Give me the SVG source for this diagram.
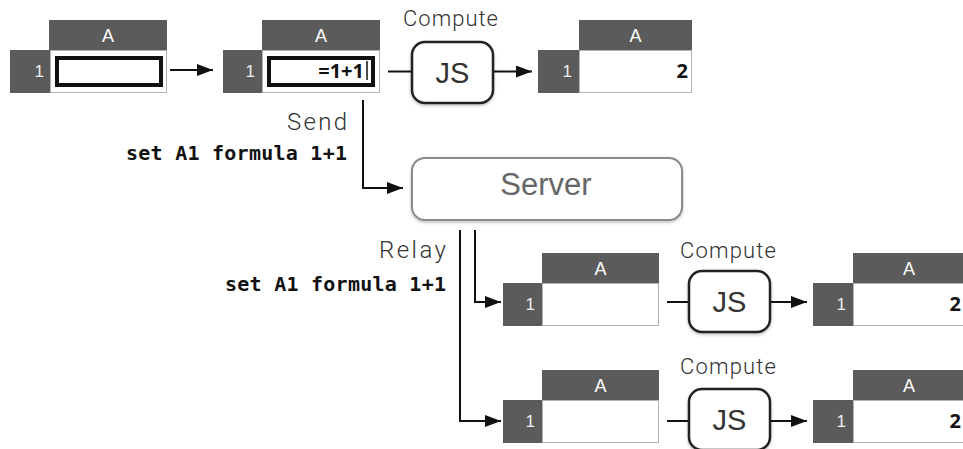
<svg xmlns="http://www.w3.org/2000/svg" width="963" height="449" viewBox="0 0 963 449">
<style>
.hdr{fill:#5b5b5b}
.cell{fill:#fff;stroke:#b3b3b3;stroke-width:1}
.hl{fill:#fff;font-family:"Liberation Sans",Arial,sans-serif;font-size:18px;text-anchor:middle}
.rl{fill:#eee;font-family:"Liberation Sans",Arial,sans-serif;font-size:17px;text-anchor:end}
.val{fill:#111;font-family:"Open Sans","Noto Sans",sans-serif;font-weight:bold;font-size:20px;text-anchor:end}
.edit{fill:none;stroke:#111;stroke-width:4}
.js{fill:#fff;stroke:#222;stroke-width:2.5}
.jst{fill:#333;font-family:"Liberation Sans",Arial,sans-serif;font-size:29px;text-anchor:middle}
.lbl{fill:#333;font-family:"Roboto","Liberation Sans",sans-serif;font-weight:300;font-size:22px}
.big{font-size:24px}
.mono{fill:#111;font-family:"DejaVu Sans Mono","Liberation Mono",monospace;font-weight:bold;font-size:20px}
.ln{fill:none;stroke:#111;stroke-width:2}
.arr{marker-end:url(#ah)}
</style>
<defs>
<marker id="ah" markerUnits="userSpaceOnUse" markerWidth="16" markerHeight="12" refX="16" refY="6" orient="auto">
<path d="M0,0 L16,6 L0,12 z" fill="#111"/>
</marker>
<filter id="sh" x="-10%" y="-10%" width="120%" height="130%">
<feDropShadow dx="0" dy="1.5" stdDeviation="1.5" flood-color="#000" flood-opacity="0.25"/>
</filter>
</defs>

<g id="connectors">
<line class="ln arr" x1="170" y1="70" x2="213" y2="70"/>
<line class="ln" x1="388" y1="71.5" x2="412" y2="71.5"/>
<line class="ln arr" x1="493" y1="71.5" x2="532" y2="71.5"/>
<polyline class="ln arr" points="363,100 363,188 403,188"/>
<polyline class="ln arr" points="475,230 475,302 501,302"/>
<polyline class="ln arr" points="460,230 460,421 501,421"/>
<line class="ln" x1="667" y1="302" x2="689" y2="302"/>
<line class="ln arr" x1="770" y1="302" x2="807" y2="302"/>
<line class="ln" x1="667" y1="421" x2="689" y2="421"/>
<line class="ln arr" x1="770" y1="421" x2="807" y2="421"/>
</g>

<g id="labels">
<text class="lbl" x="403" y="25.5" textLength="95" lengthAdjust="spacing">Compute</text>
<text class="lbl big" x="287" y="130" textLength="60" lengthAdjust="spacing">Send</text>
<text class="mono" x="126" y="160" textLength="221" lengthAdjust="spacing">set A1 formula 1+1</text>
<text class="lbl big" x="379" y="258" textLength="67" lengthAdjust="spacing">Relay</text>
<text class="mono" x="225" y="291" textLength="221" lengthAdjust="spacing">set A1 formula 1+1</text>
<text class="lbl" x="680" y="258" textLength="96" lengthAdjust="spacing">Compute</text>
<text class="lbl" x="680" y="374" textLength="96" lengthAdjust="spacing">Compute</text>
</g>

<g id="sheet1">
<rect class="hdr" x="49" y="20" width="118" height="30"/>
<rect class="cell" x="50.5" y="50.5" width="116" height="42"/>
<rect class="hdr" x="10" y="50" width="40" height="43"/>
<text class="hl" x="108" y="41.5">A</text>
<text class="rl" x="44" y="77">1</text>
<rect class="edit" x="57" y="58" width="104" height="27"/>
</g>

<g id="sheet2">
<rect class="hdr" x="262" y="20" width="118" height="30"/>
<rect class="cell" x="262.5" y="50.5" width="117" height="42"/>
<rect class="hdr" x="223" y="50" width="39" height="43"/>
<text class="hl" x="321" y="41.5">A</text>
<text class="rl" x="255" y="77">1</text>
<rect class="edit" x="269" y="58" width="104" height="27"/>
<text class="val" x="364" y="77.5">=1+1</text>
<line x1="367" y1="61" x2="367" y2="80" stroke="#111" stroke-width="1.5"/>
</g>

<g id="js1">
<rect class="js" x="412" y="42" width="81" height="61" rx="13" filter="url(#sh)"/>
<text class="jst" x="452.5" y="83">JS</text>
</g>

<g id="sheet3">
<rect class="hdr" x="579" y="20" width="113" height="30"/>
<rect class="cell" x="579.5" y="50.5" width="112" height="42"/>
<rect class="hdr" x="538" y="50" width="41" height="43"/>
<text class="hl" x="635.5" y="41.5">A</text>
<text class="rl" x="572" y="77">1</text>
<text class="val" x="688" y="77.5">2</text>
</g>

<g id="server">
<rect x="412" y="158" width="270" height="62" rx="13" fill="#fff" stroke="#8a8a8a" stroke-width="2" filter="url(#sh)"/>
<text x="546" y="195" fill="#666" font-family="'Liberation Sans',Arial,sans-serif" font-size="31" text-anchor="middle">Server</text>
</g>

<g id="sheetB1">
<rect class="hdr" x="542" y="253" width="117" height="30"/>
<rect class="cell" x="542.5" y="283.5" width="116" height="42"/>
<rect class="hdr" x="503" y="283" width="39" height="43"/>
<text class="hl" x="600.5" y="274.5">A</text>
<text class="rl" x="535" y="310">1</text>
</g>

<g id="jsB1">
<rect class="js" x="689" y="271" width="81" height="61" rx="13" filter="url(#sh)"/>
<text class="jst" x="729.5" y="312">JS</text>
</g>

<g id="sheetB1result">
<rect class="hdr" x="853" y="253" width="113" height="30"/>
<rect class="cell" x="853.5" y="283.5" width="113" height="42"/>
<rect class="hdr" x="813" y="283" width="40" height="43"/>
<text class="hl" x="909" y="274.5">A</text>
<text class="rl" x="846" y="310">1</text>
<text class="val" x="961" y="310.5">2</text>
</g>

<g id="sheetB2">
<rect class="hdr" x="542" y="370" width="117" height="30"/>
<rect class="cell" x="542.5" y="400.5" width="116" height="42"/>
<rect class="hdr" x="503" y="400" width="39" height="43"/>
<text class="hl" x="600.5" y="391.5">A</text>
<text class="rl" x="535" y="427">1</text>
</g>

<g id="jsB2">
<rect class="js" x="689" y="389" width="81" height="61" rx="13" filter="url(#sh)"/>
<text class="jst" x="729.5" y="430">JS</text>
</g>

<g id="sheetB2result">
<rect class="hdr" x="853" y="370" width="113" height="30"/>
<rect class="cell" x="853.5" y="400.5" width="113" height="42"/>
<rect class="hdr" x="813" y="400" width="40" height="43"/>
<text class="hl" x="909" y="391.5">A</text>
<text class="rl" x="846" y="427">1</text>
<text class="val" x="961" y="427.5">2</text>
</g>
</svg>
